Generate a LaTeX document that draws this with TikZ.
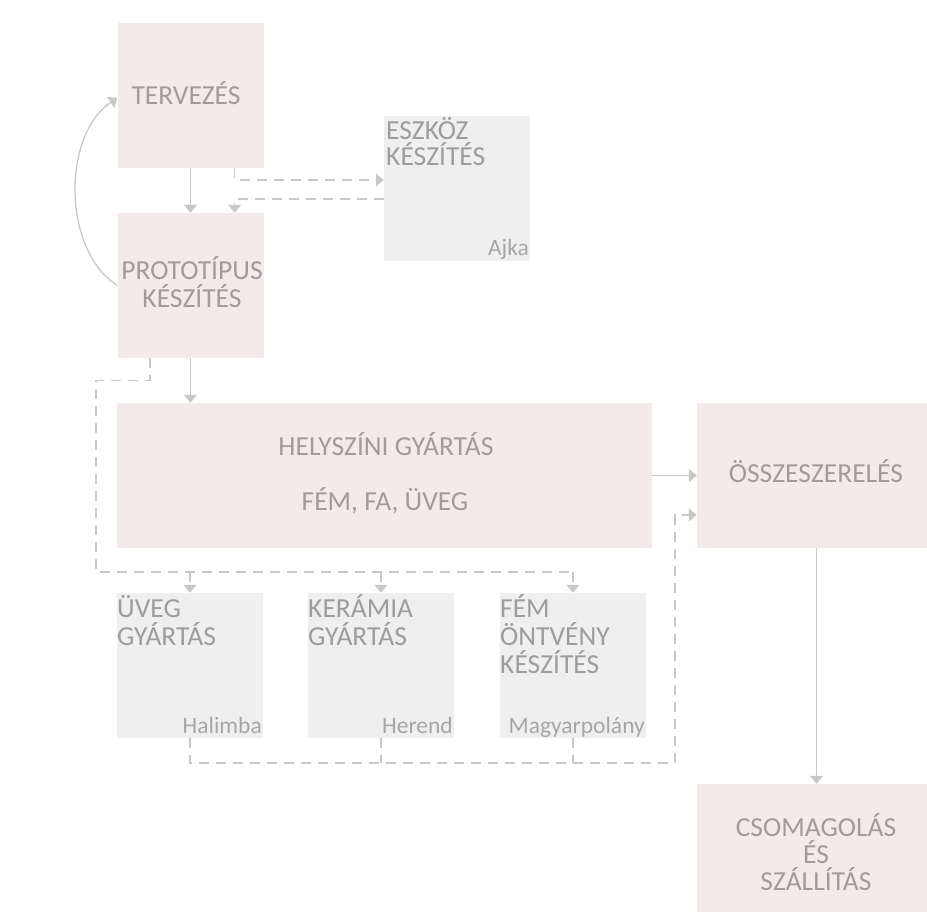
\documentclass[tikz,border=0pt]{standalone}
\usepackage{fontspec}
\setmainfont{Carlito}
\usetikzlibrary{arrows.meta,calc}
\definecolor{pinkfill}{HTML}{F3EBE9}
\definecolor{grayfill}{HTML}{EFEFEF}
\definecolor{linec}{HTML}{C8C8C8}
\definecolor{txt}{HTML}{A09C9C}
\definecolor{placetxt}{HTML}{A6A6A6}
\begin{document}
\begin{tikzpicture}[x=1pt,y=-1pt,
  box/.style={rectangle, inner sep=0pt, minimum width=146pt, minimum height=145pt},
  pinkbox/.style={box, fill=pinkfill},
  graybox/.style={box, fill=grayfill},
  title/.style={inner sep=0pt, text=txt, font=\fontsize{27.5}{28}\selectfont, align=left},
  ctitle/.style={title, align=center},
  place/.style={inner sep=0pt, text=placetxt, font=\fontsize{23.5}{26}\selectfont},
  conn/.style={draw=linec, line width=1.3pt, -{Triangle[width=13pt,length=8pt]}},
  dconn/.style={conn, dash pattern=on 10pt off 7pt},
  dline/.style={draw=linec, line width=1.3pt, dash pattern=on 10pt off 7pt}
]
\useasboundingbox (0,0) rectangle (927,921);

% boxes
\node[pinkbox] (terv) at (190.5,95.5) {};
\node[pinkbox] (proto) at (190.5,285.5) {};
\node[graybox] (eszkoz) at (457,188.5) {};
\node[pinkbox, minimum width=535pt] (hely) at (384.5,475.5) {};
\node[pinkbox, minimum width=239pt] (ossz) at (816.5,475.5) {};
\node[pinkbox, minimum width=239pt, minimum height=128pt] (csom) at (816.5,848) {};
\node[graybox] (uveg) at (190,665.5) {};
\node[graybox] (keram) at (381,665.5) {};
\node[graybox] (fem) at (573,665.5) {};

% texts (multi-line nodes are placed by the baseline of their last line)
\node[ctitle, anchor=base] (tervt) at (186,104) {TERVEZÉS};
\node[ctitle, anchor=base] (protot) at (192,307) {PROTOTÍPUS\\KÉSZÍTÉS};
\node[title, anchor=base west, font=\fontsize{27.5}{26}\selectfont] (eszkozt) at (386,165) {ESZKÖZ\\KÉSZÍTÉS};
\node[place, anchor=base east] (ajka) at (529,255) {Ajka};
\node[ctitle, anchor=base] (helyt1) at (386,455) {HELYSZÍNI GYÁRTÁS};
\node[ctitle, anchor=base] (helyt2) at (385,510) {FÉM, FA, ÜVEG};
\node[ctitle, anchor=base] (osszt) at (816,482) {ÖSSZESZERELÉS};
\node[ctitle, anchor=base, font=\fontsize{27.5}{27}\selectfont] (csomt) at (816,890) {CSOMAGOLÁS\\ÉS\\SZÁLLÍTÁS};
\node[title, anchor=base west] (uvegt) at (117,645) {ÜVEG\\GYÁRTÁS};
\node[place, anchor=base east] (halimba) at (262,733) {Halimba};
\node[title, anchor=base west] (keramt) at (308,645) {KERÁMIA\\GYÁRTÁS};
\node[place, anchor=base east] (herend) at (453,733) {Herend};
\node[title, anchor=base west] (femt) at (500,673) {FÉM\\ÖNTVÉNY\\KÉSZÍTÉS};
\node[place, anchor=base east] (magyar) at (645,733) {Magyarpolány};

% connectors
\draw[conn] (terv.south) -- (proto.north);
\draw[dconn] ([xshift=-29pt]terv.south east) |- ([yshift=8.5pt]eszkoz.west);
\draw[dconn] ([yshift=-10.5pt]eszkoz.west) -| ([xshift=-29pt]proto.north east);
\draw[conn] (proto.west) .. controls (62,250) and (62,135) .. ([yshift=-2.5pt]terv.west);
\draw[conn] (proto.south) -- (proto.south |- hely.north);

\coordinate (bus) at (96,572);
\draw[dline] ([xshift=-40.5pt]proto.south) -- ++(0,22) -| (bus) -- (bus -| fem.north);
\draw[dconn] (bus -| uveg.north) -- (uveg.north);
\draw[dconn] (bus -| keram.north) -- (keram.north);
\draw[dconn] (bus -| fem.north) -- (fem.north);

\coordinate (ret) at (675,763);
\draw[dconn] (uveg.south) |- (ret) |- ([yshift=-39.5pt]ossz.west);
\draw[dline] (keram.south) -- (keram.south |- ret);
\draw[dline] (fem.south) -- (fem.south |- ret);

\draw[conn] (hely.east) -- (ossz.west);
\draw[conn] (ossz.south) -- (csom.north);
\end{tikzpicture}
\end{document}
